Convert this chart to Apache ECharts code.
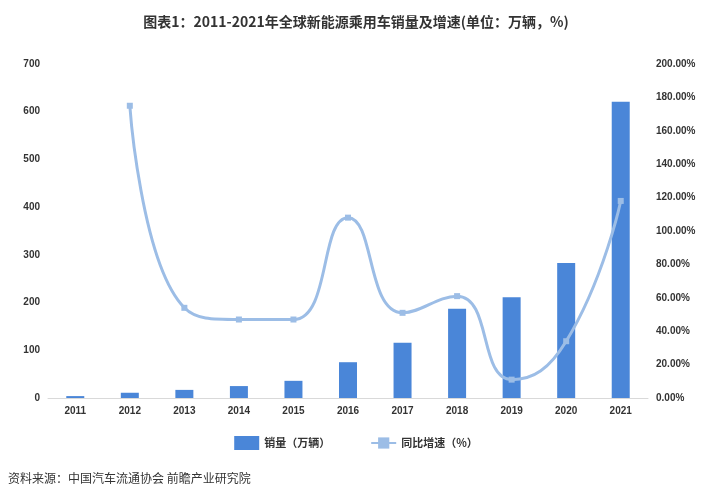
<!DOCTYPE html>
<html><head><meta charset="utf-8">
<script src="https://cdn.jsdelivr.net/npm/echarts@6/dist/echarts.min.js"></script>
<style>html,body{margin:0;padding:0;background:#fff}#c{width:712px;height:501px}</style>
</head><body><div id="c"></div>
<script>
const years = ['2011','2012','2013','2014','2015','2016','2017','2018','2019','2020','2021'];
const sales = [4, 11, 17, 25, 36, 75, 116, 187, 211, 283, 621];
const growth = [null, 175, 54, 47, 47, 108, 51, 61, 11, 34, 118];
const chart = echarts.init(document.getElementById('c'));
chart.setOption({
  animation: false,
  title: {text: '图表1：2011-2021年全球新能源乘用车销量及增速(单位：万辆，%)', left: 'center', top: 10,
    textStyle: {fontSize: 14, fontWeight: 'bold', color: '#333', fontFamily: 'Noto Sans CJK SC'}},
  graphic: [{type: 'text', left: 8, top: 472, style: {text: '资料来源：中国汽车流通协会 前瞻产业研究院', fontSize: 12, fill: '#333', fontFamily: 'Noto Sans CJK SC'}}],
  legend: {bottom: 46, itemGap: 40, textStyle: {fontSize: 11, color: '#333', fontWeight: 'bold', fontFamily: 'Noto Sans CJK SC'},
    data: [{name: '销量（万辆）', icon: 'rect'}, {name: '同比增速（%）'}]},
  grid: {left: 48, right: 64, top: 64, bottom: 103},
  xAxis: {type: 'category', data: years, axisTick: {show: false},
    axisLine: {lineStyle: {color: '#d9d9d9'}}, axisLabel: {color: '#333', fontSize: 10, fontWeight: 'bold'}},
  yAxis: [
    {type: 'value', min: 0, max: 700, interval: 100, splitLine: {show: false},
      axisLabel: {color: '#333', fontSize: 10, fontWeight: 'bold'}},
    {type: 'value', min: 0, max: 200, interval: 20, splitLine: {show: false},
      axisLabel: {color: '#333', fontSize: 10, fontWeight: 'bold', formatter: v => v.toFixed(2) + '%'}}
  ],
  series: [
    {name: '销量（万辆）', type: 'bar', data: sales, barWidth: 18, itemStyle: {color: '#4a86d8'}},
    {name: '同比增速（%）', type: 'line', yAxisIndex: 1, data: growth, smooth: 0.5, connectNulls: false,
      symbol: 'rect', symbolSize: 6, lineStyle: {color: '#9cbde6', width: 3}, itemStyle: {color: '#9cbde6'}}
  ]
});
</script></body></html>
